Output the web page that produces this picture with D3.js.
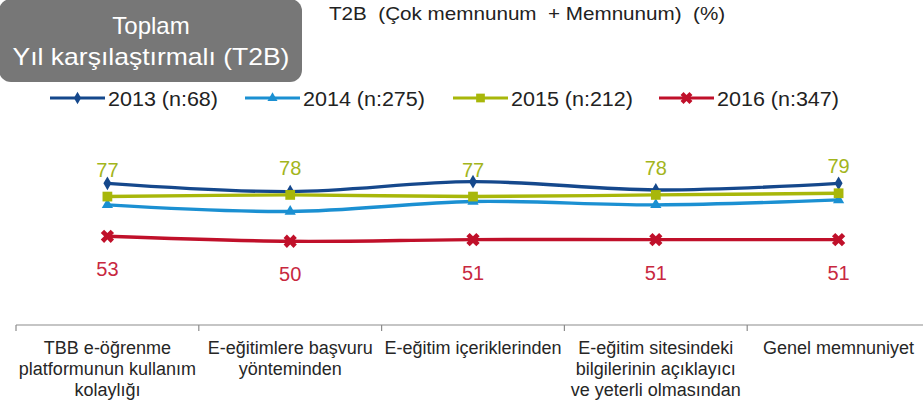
<!DOCTYPE html>
<html>
<head>
<meta charset="utf-8">
<script src="https://cdn.jsdelivr.net/npm/d3@7"></script>
<style>
  html, body { margin: 0; padding: 0; background: #fff; }
  svg { display: block; font-family: "Liberation Sans", Arial, sans-serif; }
</style>
</head>
<body>
<svg id="chart" width="923" height="405"></svg>
<script>
// ---- data ----
const categories = [
  "TBB e-öğrenme platformunun kullanım kolaylığı",
  "E-eğitimlere başvuru yönteminden",
  "E-eğitim içeriklerinden",
  "E-eğitim sitesindeki bilgilerinin açıklayıcı ve yeterli olmasından",
  "Genel memnuniyet"
];
const categoryLines = [
  ["TBB e-öğrenme", "platformunun kullanım", "kolaylığı"],
  ["E-eğitimlere başvuru", "yönteminden"],
  ["E-eğitim içeriklerinden"],
  ["E-eğitim sitesindeki", "bilgilerinin açıklayıcı", "ve yeterli olmasından"],
  ["Genel memnuniyet"]
];
const seriesNames = ["2013 (n:68)", "2014 (n:275)", "2015 (n:212)", "2016 (n:347)"];
const values2013 = [85, 80, 86, 81, 85];
const values2014 = [72, 68, 74, 72, 75];
const values2015 = [77, 78, 77, 78, 79];
const values2016 = [53, 50, 51, 51, 51];
const titleLines = ["Toplam", "Yıl karşılaştırmalı (T2B)"];
const subtitle = "T2B  (Çok memnunum  + Memnunum)  (%)";

// ---- styles ----
const colors = ["#15488c", "#1b90d2", "#a8b70a", "#c0102a"];
const labelColors = { 2: "#a3b51c", 3: "#c8283f" };
const symbols = [d3.symbolDiamond, d3.symbolTriangle, d3.symbolSquare, d3.symbolCross];
const symSizes = [55, 55, 95, 110];
const symRot = [0, 0, 0, 45];

const series = [values2013, values2014, values2015, values2016].map((v, i) => ({
  name: seriesNames[i], values: v, color: colors[i], i
}));

const svg = d3.select("#chart");

// scales
const x = d3.scaleBand().domain(categories).range([16, 930]).padding(0);
const y = d3.scaleLinear().domain([0, 100]).range([324, 158.5]);
const cx = c => x(c) + x.bandwidth() / 2;

// title box
svg.append("rect")
  .attr("x", -1).attr("y", -1).attr("width", 303).attr("height", 83)
  .attr("rx", 12).attr("ry", 12)
  .attr("fill", "#777777");
svg.append("text")
  .attr("x", 151).attr("y", 34)
  .attr("text-anchor", "middle").attr("fill", "#ffffff")
  .attr("font-size", 24)
  .text(titleLines[0]);
svg.append("text")
  .attr("x", 151).attr("y", 65)
  .attr("text-anchor", "middle").attr("fill", "#ffffff")
  .attr("font-size", 24)
  .attr("transform", "translate(151,0) scale(1.105,1) translate(-151,0)")
  .text(titleLines[1]);

// subtitle
svg.append("text")
  .attr("x", 0).attr("y", 0)
  .attr("fill", "#222").attr("font-size", 17.5)
  .attr("transform", "translate(329,20) scale(1.18,1)")
  .attr("xml:space", "preserve")
  .style("white-space", "pre")
  .text(subtitle);

// legend
const legendX = [50, 245, 453, 659];
const legend = svg.append("g");
series.forEach((s, i) => {
  const g = legend.append("g").attr("transform", `translate(${legendX[i]},98)`);
  g.append("line").attr("x1", 0).attr("x2", 55).attr("y1", 0).attr("y2", 0)
    .attr("stroke", s.color).attr("stroke-width", 3);
  g.append("path")
    .attr("d", d3.symbol().type(symbols[i]).size(symSizes[i] * 0.8)())
    .attr("transform", `translate(27.5,0) rotate(${symRot[i]})`)
    .attr("fill", s.color);
  g.append("text").attr("x", 0).attr("y", 0)
    .attr("transform", "translate(58,7.5) scale(1.05,1)")
    .attr("font-size", 20.5).attr("fill", "#222")
    .text(s.name);
});

// axis
const axisY = 325;
svg.append("line")
  .attr("x1", 16).attr("x2", 923).attr("y1", axisY).attr("y2", axisY)
  .attr("stroke", "#8c8c8c").attr("stroke-width", 1.2);
svg.selectAll(".tick-mark").data(categories).enter().append("line")
  .attr("class", "tick-mark")
  .attr("x1", d => x(d)).attr("x2", d => x(d))
  .attr("y1", axisY).attr("y2", axisY + 6)
  .attr("stroke", "#8c8c8c").attr("stroke-width", 1.2);

const catText = svg.selectAll(".cat").data(categories).enter().append("text")
  .attr("class", "cat")
  .attr("text-anchor", "middle")
  .attr("font-size", 18)
  .attr("fill", "#262626");
catText.each(function(d, i) {
  const t = d3.select(this);
  categoryLines[i].forEach((ln, j) => {
    t.append("tspan").attr("x", cx(d)).attr("y", 354 + j * 21).text(ln);
  });
});

// lines
const line = d3.line()
  .x((d, i) => cx(categories[i]))
  .y(d => y(d))
  .curve(d3.curveCatmullRom.alpha(0));

const order = [3, 1, 0, 2];
order.forEach(k => {
  const s = series[k];
  const g = svg.append("g");
  g.append("path").datum(s.values)
    .attr("d", line).attr("fill", "none")
    .attr("stroke", s.color).attr("stroke-width", 3.4);
  g.selectAll("path.m").data(s.values).enter().append("path")
    .attr("class", "m")
    .attr("d", d3.symbol().type(symbols[k]).size(symSizes[k])())
    .attr("transform", (d, i) => `translate(${cx(categories[i])},${y(d)}) rotate(${symRot[k]})`)
    .attr("fill", s.color);
});

// data labels
svg.selectAll(".lbl15").data(values2015).enter().append("text")
  .attr("class", "lbl15")
  .attr("x", (d, i) => cx(categories[i]))
  .attr("y", d => y(d) - 20)
  .attr("text-anchor", "middle").attr("font-size", 20)
  .attr("fill", labelColors[2])
  .text(d => d);
svg.selectAll(".lbl16").data(values2016).enter().append("text")
  .attr("class", "lbl16")
  .attr("x", (d, i) => cx(categories[i]))
  .attr("y", d => y(d) + 40)
  .attr("text-anchor", "middle").attr("font-size", 20)
  .attr("fill", labelColors[3])
  .text(d => d);
</script>
</body>
</html>
